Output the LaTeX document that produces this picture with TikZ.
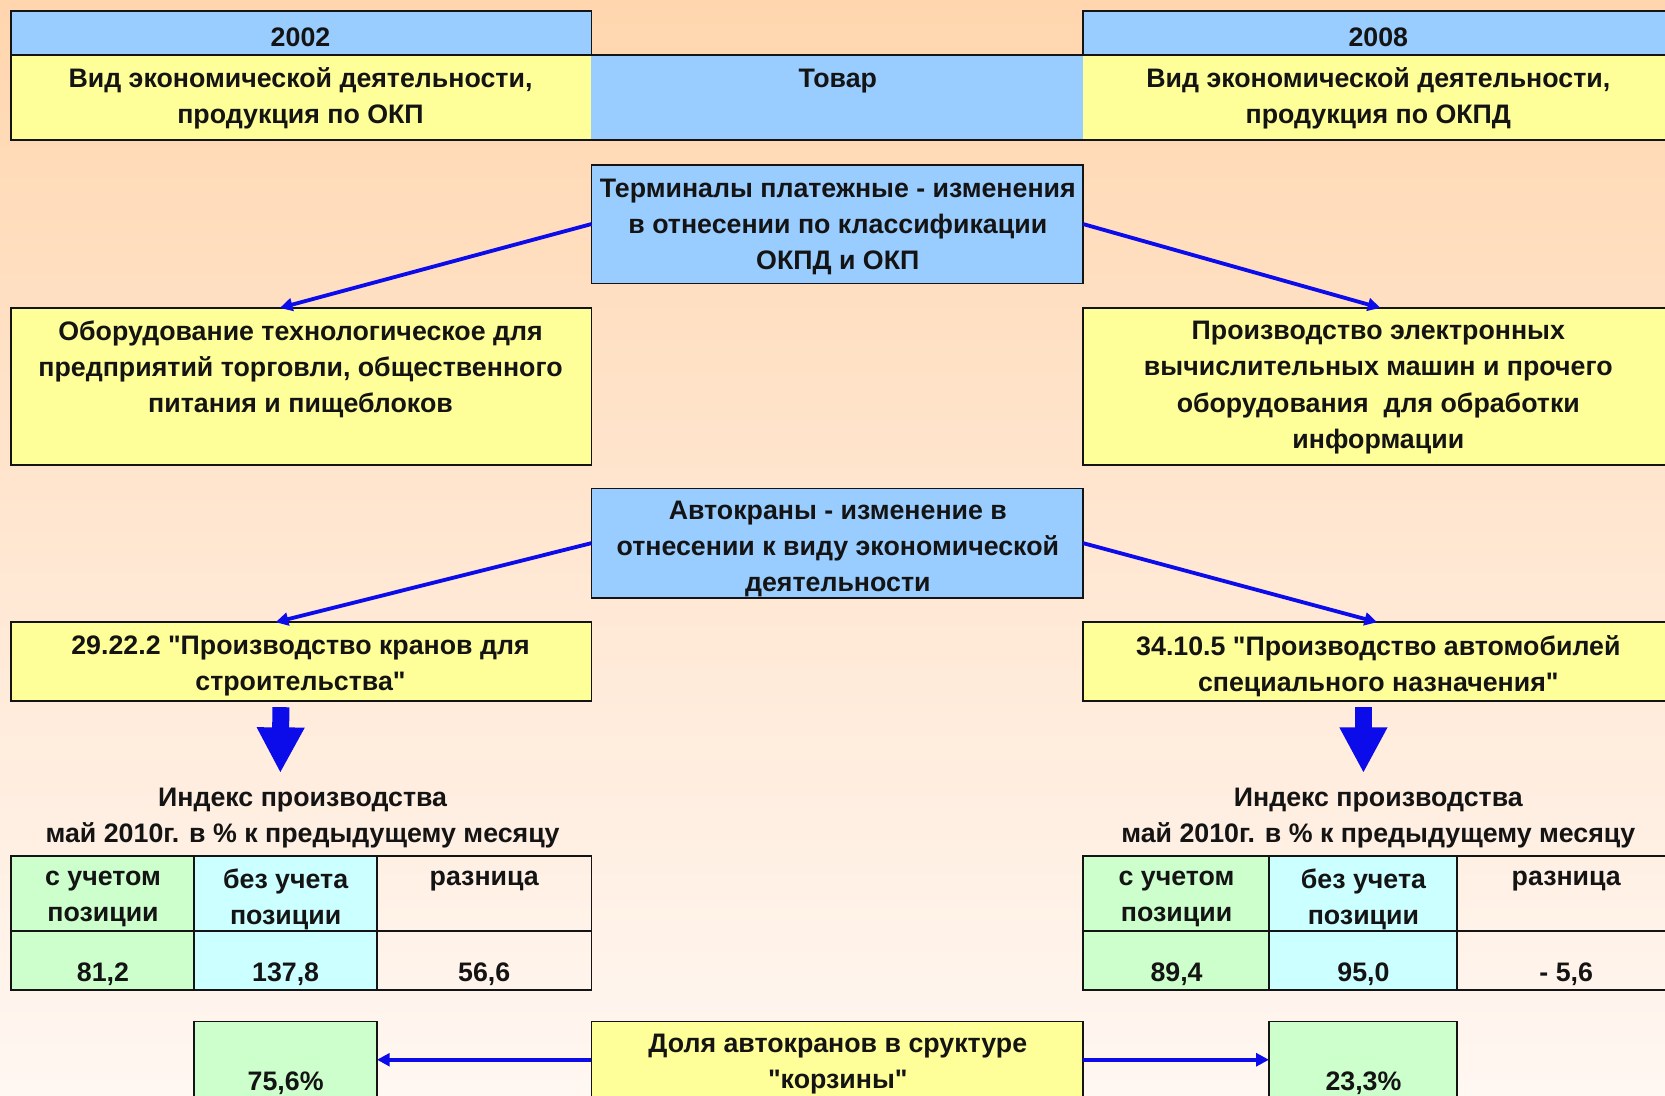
\documentclass[tikz,border=0pt]{standalone}
\usepackage{fontspec}
\setmainfont{Liberation Sans}
\newfontfamily\qfont{Liberation Sans}
\usetikzlibrary{arrows.meta,calc}
\definecolor{bgtop}{RGB}{255,214,174}
\definecolor{bgmid}{RGB}{255,231,210}
\definecolor{bgbot}{RGB}{255,247,242}
\definecolor{cblue}{RGB}{153,204,255}
\definecolor{cyel}{RGB}{255,255,153}
\definecolor{cgreen}{RGB}{204,255,204}
\definecolor{ccyan}{RGB}{204,255,255}
\definecolor{arr}{RGB}{12,12,235}
\definecolor{ink}{RGB}{20,20,20}
\newcommand{\qq}{{\qfont\bfseries"}}
\begin{document}
\begin{tikzpicture}[x=1pt,y=-1pt,
  cell/.style={anchor=north west, inner sep=0pt, outer sep=0pt},
  bx/.style={cell, draw=ink, line width=1.8pt},
  rl/.style={draw=ink, line width=1.8pt},
  txt/.style={font=\bfseries\fontsize{25.2}{34}\selectfont, text=ink, align=center, inner sep=0pt, yshift=-3pt},
  thin/.style={draw=arr, line width=3.6pt, -{Triangle[width=12pt,length=12pt]}},
  fat/.style={draw=arr, line width=16pt, -{Triangle[width=42pt,length=43pt]}}]
\useasboundingbox (0,0) rectangle (1568,1032);
\shade[top color=bgtop, bottom color=bgbot, middle color=bgmid] (0,0) rectangle (1568,1032);

% ---------- top table ----------
\node[cell, fill=cblue, minimum width=547pt, minimum height=42pt] (h02) at (10,10) {};
\node[cell, fill=cblue, minimum width=556pt, minimum height=42pt] (h08) at (1020,10) {};
\node[cell, fill=cyel, minimum width=547pt, minimum height=80pt] (vL) at (10,52) {};
\node[cell, fill=cblue, minimum width=463pt, minimum height=80pt] (tov) at (557,52) {};
\node[cell, fill=cyel, minimum width=556pt, minimum height=80pt] (vR) at (1020,52) {};
\draw[rl] (h02.south west) -- (h02.north west) -- (h02.north east) -- (h02.south east);
\draw[rl] (h08.south west) -- (h08.north west) -- (h08.north east);
\draw[rl] (h02.south west) -- (h08.south east);
\draw[rl] (vL.north west) -- (vL.south west) -- (vR.south east);
\node[txt] at (283,32) {2002};
\node[txt] at (1298,32) {2008};
\node[txt] at (283,90) {Вид экономической деятельности,\\продукция по ОКП};
\node[txt] at (789,73) {Товар};
\node[txt] at (1298,90) {Вид экономической деятельности,\\продукция по ОКПД};

% ---------- terminals ----------
\node[bx, fill=cblue, minimum width=463pt, minimum height=112pt] (term) at (557,155) {};
\node[txt] at (789,211) {Терминалы платежные - изменения\\в отнесении по классификации\\ОКПД и ОКП};
\node[bx, fill=cyel, minimum width=547pt, minimum height=148pt] (obor) at (10,290) {};
\node[txt] at (283,345) {Оборудование технологическое для\\предприятий торговли, общественного\\питания и пищеблоков};
\node[bx, fill=cyel, minimum width=556pt, minimum height=148pt] (evm) at (1020,290) {};
\node[txt] at (1298,362) {Производство электронных\\вычислительных машин и прочего\\оборудования \ для обработки\\информации};
\draw[thin] (term.west) -- ([xshift=-20pt]obor.north);
\draw[thin] (term.east) -- ([xshift=2pt]evm.north);

% ---------- cranes ----------
\node[bx, fill=cblue, minimum width=463pt, minimum height=103pt] (avto) at (557,460) {};
\node[txt] at (789,514) {Автокраны - изменение в\\отнесении к виду экономической\\деятельности};
\node[bx, fill=cyel, minimum width=547pt, minimum height=74pt] (crL) at (10,586) {};
\node[txt] at (283,624) {29.22.2 \qq Производство кранов для\\строительства\qq};
\node[bx, fill=cyel, minimum width=556pt, minimum height=74pt] (crR) at (1020,586) {};
\node[txt] at (1298,624) {34.10.5 \qq Производство автомобилей\\специального назначения\qq};
\draw[thin] (avto.west) -- ([xshift=-24pt]crL.north);
\draw[thin] (avto.east) -- ([xshift=-1pt]crR.north);

% ---------- index titles ----------
\node[txt] (idxL) at (285,767) {Индекс производства\\май 2010г. в \% к предыдущему месяцу};
\node[txt] (idxR) at (1298,767) {Индекс производства\\май 2010г. в \% к предыдущему месяцу};
\draw[fat] ([xshift=-19pt,yshift=-6pt]crL.south) -- (264,728);
\draw[fat] ([xshift=-14pt,yshift=-6pt]crR.south) -- (1284,728);

% ---------- left table ----------
\node[cell, fill=cgreen, minimum width=173pt, minimum height=126pt] (tL1) at (10,806) {};
\node[cell, fill=ccyan, minimum width=172pt, minimum height=126pt] (tL2) at (183,806) {};
\node[cell, minimum width=202pt, minimum height=126pt] (tL3) at (355,806) {};
\draw[rl] (tL1.north west) rectangle (tL3.south east);
\draw[rl] (tL1.north east) -- (tL1.south east);
\draw[rl] (tL2.north east) -- (tL2.south east);
\draw[rl] (10,877) -- (557,877);
\node[txt] at (97,844) {с учетом\\позиции};
\node[txt] at (269,844) {без учета\\позиции};
\node[txt] at (456,827) {разница};
\node[txt] at (97,914) {81,2};
\node[txt] at (269,914) {137,8};
\node[txt] at (456,914) {56,6};

% ---------- right table ----------
\node[cell, fill=cgreen, minimum width=175pt, minimum height=126pt] (tR1) at (1020,806) {};
\node[cell, fill=ccyan, minimum width=177pt, minimum height=126pt] (tR2) at (1195,806) {};
\node[cell, minimum width=204pt, minimum height=126pt] (tR3) at (1372,806) {};
\draw[rl] (tR1.north west) rectangle (tR3.south east);
\draw[rl] (tR1.north east) -- (tR1.south east);
\draw[rl] (tR2.north east) -- (tR2.south east);
\draw[rl] (1020,877) -- (1576,877);
\node[txt] at (1108,844) {с учетом\\позиции};
\node[txt] at (1284,844) {без учета\\позиции};
\node[txt] at (1475,827) {разница};
\node[txt] at (1108,914) {89,4};
\node[txt] at (1284,914) {95,0};
\node[txt] at (1475,914) {- 5,6};

% ---------- bottom ----------
\node[bx, fill=cgreen, minimum width=172pt, minimum height=100pt] (pL) at (183,962) {};
\node[bx, fill=cyel, minimum width=463pt, minimum height=100pt] (dol) at (557,962) {};
\node[bx, fill=cgreen, minimum width=177pt, minimum height=100pt] (pR) at (1195,962) {};
\node[txt] at (789,999) {Доля автокранов в сруктуре\\\qq корзины\qq};
\node[txt] at (269,1017) {75,6\%};
\node[txt] at (1284,1017) {23,3\%};
\draw[thin] ([yshift=14pt]dol.west) -- ([yshift=14pt]pL.east);
\draw[thin] ([yshift=14pt]dol.east) -- ([yshift=14pt]pR.west);
\end{tikzpicture}
\end{document}
